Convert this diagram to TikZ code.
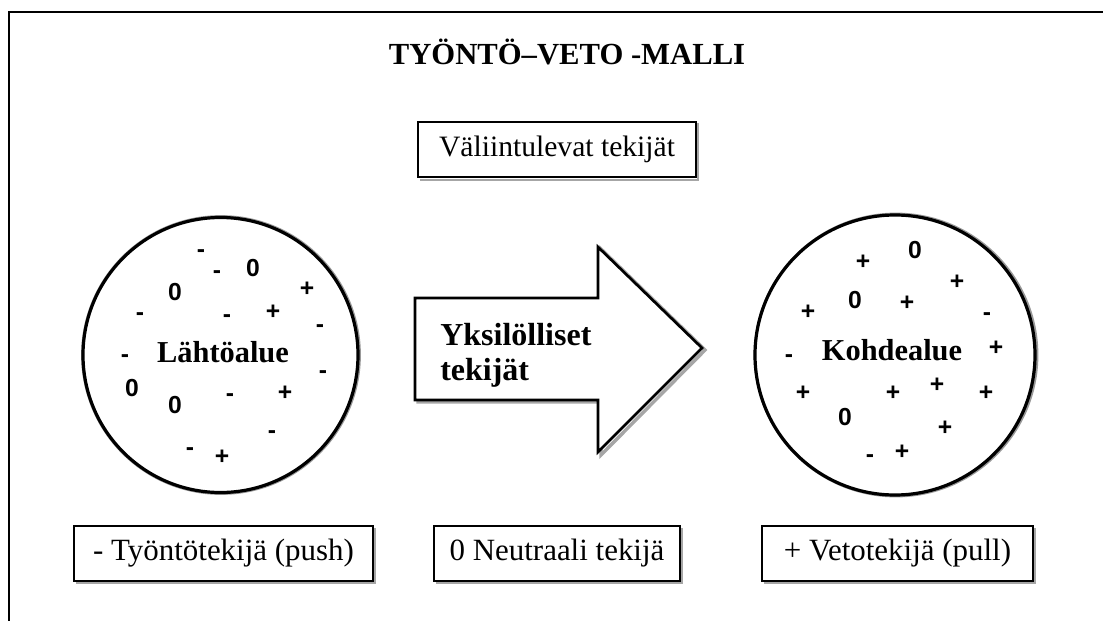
\documentclass[tikz,border=0pt]{standalone}
\usepackage{fontspec}
\setmainfont{Liberation Serif}
\newfontfamily\symfont{Liberation Sans}
\begin{document}
\begin{tikzpicture}[x=0.75pt,y=-0.75pt,
  frameline/.style={line width=2.2pt,black},
  labelbox/.style={draw=black,line width=1pt,fill=white,inner sep=0pt,
    minimum height=55*0.75pt,font=\fontsize{22.2}{26}\selectfont},
  legendbox/.style={labelbox,font=\fontsize{23.2}{27}\selectfont},
  region/.style={circle,draw=black,line width=2.4pt,fill=white,inner sep=0pt},
  regionlabel/.style={inner sep=0pt,font=\bfseries\fontsize{22.8}{27}\selectfont},
  shadowgray/.style={draw=black!35,line width=1.2pt},
  sym/.style={inner sep=0pt,font=\symfont\bfseries\fontsize{18.5}{22}\selectfont},
  bigarrow/.style={draw=black,line width=2pt,fill=white,line join=miter},
  arrowlabel/.style={inner sep=0pt,anchor=base west,font=\bfseries\fontsize{24}{28}\selectfont}
]
\useasboundingbox (0,0) rectangle (1103,621);
% frame
\draw[frameline] (9,621) -- (9,12) -- (1103,12);
% title
\node[font=\bfseries\fontsize{23}{27}\selectfont] (title) at (567,52) {TYÖNTÖ–VETO -MALLI};
% intervening factors box
\draw[shadowgray] (420,180) -- (698,180) -- (698,123);
\node[labelbox,minimum width=278*0.75pt] (vali) at (557,149.5) {Väliintulevat tekijät};
% regions
\draw[black!40,line width=3.6pt] (221,355) circle (137.5);
\node[region,minimum size=275*0.75pt] (src) at (220.5,355) {};
\draw[black!40,line width=3.6pt] (896,355) circle (140);
\node[region,minimum size=280*0.75pt] (dst) at (895,355) {};
\node[regionlabel] (srclabel) at (223,352) {Lähtöalue};
\node[regionlabel] (dstlabel) at (892,350) {Kohdealue};
% arrow
\draw[black!35,line width=2.6pt,line join=miter]
  (418,402) -- (601,402) -- (601,455) -- (705,350) -- (601,249) -- (601,300) -- (418,300) -- cycle;
\draw[bigarrow] (415,298) -- (598,298) -- (598,247) -- (702,348) -- (598,452) -- (598,400) -- (415,400) -- cycle;
\node[arrowlabel] (arrowtext1) at (440,345) {Yksilölliset};
\node[arrowlabel] (arrowtext2) at (440,380) {tekijät};
% left region symbols
\foreach \p/\s in {
  {(201,254)}/-, {(217,275)}/-, {(253,268)}/0, {(175,292)}/0, {(307,289)}/+,
  {(140,317)}/-, {(227,319)}/-, {(273,312)}/+, {(320,329)}/-, {(125,359)}/-,
  {(323,375)}/-, {(132,388)}/0, {(175,405)}/0, {(230,398)}/-, {(285,393)}/+,
  {(272,435)}/-, {(190,452)}/-, {(222,457)}/+}
  \node[sym] at \p {\s};
% right region symbols
\foreach \p/\s in {
  {(863,262)}/+, {(915,250)}/0, {(957,282)}/+, {(855,300)}/0, {(907,303)}/+,
  {(808,312)}/+, {(987,317)}/-, {(789,359)}/-, {(996,348)}/+, {(803,393)}/+,
  {(893,393)}/+, {(937,385)}/+, {(986,393)}/+, {(845,417)}/0, {(945,428)}/+,
  {(902,452)}/+, {(870,459)}/-}
  \node[sym] at \p {\s};
% bottom legend boxes
\draw[shadowgray] (76,583) -- (375,583) -- (375,528);
\node[legendbox,minimum width=299*0.75pt] (push) at (223.5,553.5) {- Työntötekijä (push)};
\draw[shadowgray] (436,583) -- (682,583) -- (682,528);
\node[legendbox,minimum width=246*0.75pt] (neutral) at (557,553.5) {0 Neutraali tekijä};
\draw[shadowgray] (764,583) -- (1035,583) -- (1035,528);
\node[legendbox,minimum width=271*0.75pt] (pull) at (897.5,553.5) {+ Vetotekijä (pull)};
\end{tikzpicture}
\end{document}
